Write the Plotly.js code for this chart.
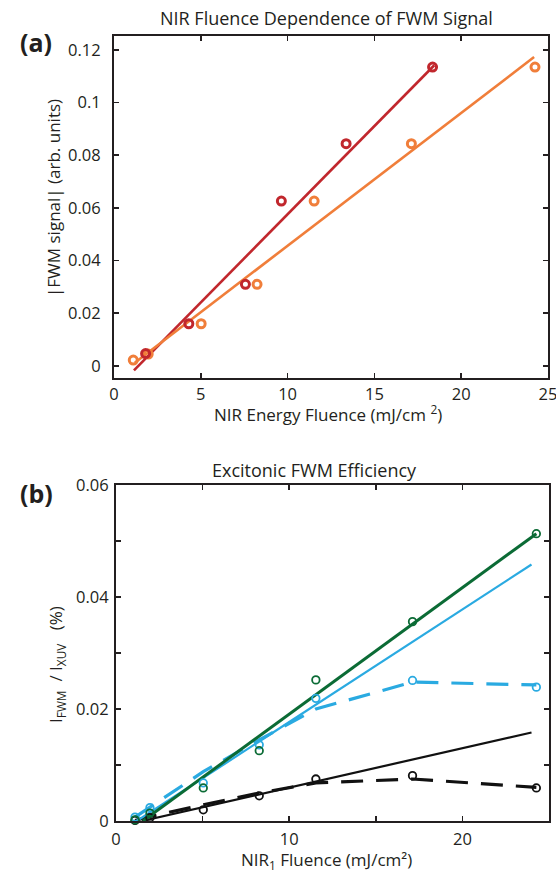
<!DOCTYPE html>
<html>
<head>
<meta charset="utf-8">
<script src="https://cdn.plot.ly/plotly-3.0.1.min.js"></script>
<style>html,body{margin:0;padding:0;background:#fff;}#chart{width:556px;height:874px;}</style>
</head>
<body>
<div id="chart"></div>
<script>
// ---------- Panel (a): NIR fluence dependence of FWM signal ----------
const redX = [1.82, 4.31, 7.57, 9.64, 13.37, 18.35];
const redY = [0.0047, 0.0160, 0.0310, 0.0626, 0.0844, 0.1135];
const orangeX = [1.11, 1.97, 5.02, 8.24, 11.53, 17.13, 24.25];
const orangeY = [0.0022, 0.0045, 0.0160, 0.0310, 0.0626, 0.0844, 0.1135];
const redFitX = [1.15, 18.45];
const redFitY = [-0.0017, 0.1142];
const orangeFitX = [1.2, 24.2];
const orangeFitY = [0.0012, 0.1173];
const aXTicks = [0, 5, 10, 15, 20, 25];
const aYTicks = [0, 0.02, 0.04, 0.06, 0.08, 0.1, 0.12];
const aYTickText = ['0', '0.02', '0.04', '0.06', '0.08', '0.1', '0.12'];

// ---------- Panel (b): Excitonic FWM efficiency ----------
const fluence = [1.1, 1.96, 5.04, 8.27, 11.54, 17.12, 24.27];
const greenY = [0.0002, 0.0014, 0.0059, 0.01255, 0.0252, 0.0356, 0.0513];
const blueY = [0.0007, 0.0024, 0.0068, 0.0136, 0.0219, 0.0251, 0.0239];
const blackY = [0.0001, 0.0006, 0.0020, 0.0045, 0.0075, 0.0081, 0.0059];
const greenFitX = [1.55, 24.27];
const greenFitY = [0.0, 0.0513];
const blueFitX = [1.2, 23.99];
const blueFitY = [0.0, 0.0458];
const blackFitX = [1.5, 23.99];
const blackFitY = [0.0, 0.0158];
const blueModelY = [0.0007, 0.0025, 0.0088, 0.0145, 0.0200, 0.0248, 0.0243];
const blackModelY = [0.0001, 0.0008, 0.0029, 0.0050, 0.0068, 0.0075, 0.0060];
const bXTicks = [0, 10, 20];
const bYTicks = [0, 0.02, 0.04, 0.06];
const bYTickText = ['0', '0.02', '0.04', '0.06'];

const RED = '#C1272D', ORANGE = '#F07E3A', GREEN = '#0B6B35', BLUE = '#2AAAE1', BLACK = '#111111';
const INK = '#231F20';
const FONT = 'Open Sans, Noto Sans, sans-serif';
const DASH = '22px,13px';

const traces = [
  {x: redFitX, y: redFitY, mode: 'lines', line: {color: RED, width: 2.6}, xaxis: 'x', yaxis: 'y'},
  {x: orangeFitX, y: orangeFitY, mode: 'lines', line: {color: ORANGE, width: 2.6}, xaxis: 'x', yaxis: 'y'},
  {x: orangeX, y: orangeY, mode: 'markers', cliponaxis: false,
   marker: {symbol: 'circle-open', size: 8, color: ORANGE, line: {width: 3, color: ORANGE}}, xaxis: 'x', yaxis: 'y'},
  {x: redX, y: redY, mode: 'markers', cliponaxis: false,
   marker: {symbol: 'circle-open', size: 8, color: RED, line: {width: 3, color: RED}}, xaxis: 'x', yaxis: 'y'},

  {x: blackFitX, y: blackFitY, mode: 'lines', line: {color: BLACK, width: 2.2}, xaxis: 'x2', yaxis: 'y2'},
  {x: fluence, y: blackModelY, mode: 'lines', line: {color: BLACK, width: 3.2, dash: DASH}, xaxis: 'x2', yaxis: 'y2'},
  {x: blueFitX, y: blueFitY, mode: 'lines', line: {color: BLUE, width: 2.2}, xaxis: 'x2', yaxis: 'y2'},
  {x: fluence, y: blueModelY, mode: 'lines', line: {color: BLUE, width: 3.2, dash: DASH}, xaxis: 'x2', yaxis: 'y2'},
  {x: greenFitX, y: greenFitY, mode: 'lines', line: {color: GREEN, width: 3}, xaxis: 'x2', yaxis: 'y2'},
  {x: fluence, y: blackY, mode: 'markers', cliponaxis: false,
   marker: {symbol: 'circle-open', size: 7.5, color: BLACK, line: {width: 1.8, color: BLACK}}, xaxis: 'x2', yaxis: 'y2'},
  {x: fluence, y: blueY, mode: 'markers', cliponaxis: false,
   marker: {symbol: 'circle-open', size: 7.5, color: BLUE, line: {width: 1.8, color: BLUE}}, xaxis: 'x2', yaxis: 'y2'},
  {x: fluence, y: greenY, mode: 'markers', cliponaxis: false,
   marker: {symbol: 'circle-open', size: 7.5, color: GREEN, line: {width: 1.8, color: GREEN}}, xaxis: 'x2', yaxis: 'y2'}
];

const minorTicks = {ticks: 'inside', ticklen: 5, tickwidth: 1.6, tickcolor: INK, showgrid: false};
const axisBase = {
  showgrid: false, zeroline: false, showline: true, linecolor: INK, linewidth: 2,
  mirror: 'ticks', ticks: 'inside', ticklen: 5, tickwidth: 1.6, tickcolor: INK,
  tickfont: {family: FONT, size: 16.5, color: INK}, automargin: false, fixedrange: true,
  ticklabeloverflow: 'allow'
};

const W = 556, H = 874;
const px = v => v / W;
const py = v => 1 - v / H;

const layout = {
  width: W, height: H,
  margin: {l: 0, r: 0, t: 0, b: 0, pad: 0},
  paper_bgcolor: '#ffffff', plot_bgcolor: '#ffffff',
  showlegend: false,
  font: {family: FONT, color: INK},
  xaxis: Object.assign({}, axisBase, {domain: [px(114), px(548)], range: [0, 25], anchor: 'y',
    tickmode: 'array', tickvals: aXTicks, ticklabelstandoff: 0}),
  yaxis: Object.assign({}, axisBase, {domain: [py(378), py(36)], range: [-0.0046, 0.1253], anchor: 'x',
    tickmode: 'array', tickvals: aYTicks, ticktext: aYTickText, ticklabelstandoff: 8}),
  xaxis2: Object.assign({}, axisBase, {domain: [px(116), px(549)], range: [0, 25], anchor: 'y2',
    tickmode: 'array', tickvals: bXTicks, ticklabelstandoff: 2,
    minor: Object.assign({}, minorTicks, {tickmode: 'linear', tick0: 0, dtick: 5})}),
  yaxis2: Object.assign({}, axisBase, {domain: [py(821), py(485)], range: [0, 0.06], anchor: 'x2',
    tickmode: 'array', tickvals: bYTicks, ticktext: bYTickText, ticklabelstandoff: 2,
    minor: Object.assign({}, minorTicks, {tickmode: 'linear', tick0: 0, dtick: 0.01})}),
  annotations: [
    {text: 'NIR Fluence Dependence of FWM Signal', x: px(326), y: py(18), xref: 'paper', yref: 'paper',
     showarrow: false, xanchor: 'center', yanchor: 'middle', font: {size: 18, family: FONT, color: INK}},
    {text: '<b>(a)</b>', x: px(36), y: py(42), xref: 'paper', yref: 'paper',
     showarrow: false, xanchor: 'center', yanchor: 'middle', font: {size: 25, family: FONT, color: INK}},
    {text: '|FWM signal| (arb. units)', x: px(53), y: py(198), xref: 'paper', yref: 'paper', textangle: -90,
     showarrow: false, xanchor: 'center', yanchor: 'middle', font: {size: 17, family: FONT, color: INK}},
    {text: 'NIR Energy Fluence (mJ/cm <sup>2</sup>)', x: px(328), y: py(413), xref: 'paper', yref: 'paper',
     showarrow: false, xanchor: 'center', yanchor: 'middle', font: {size: 17, family: FONT, color: INK}},
    {text: 'Excitonic FWM Efficiency', x: px(314), y: py(470), xref: 'paper', yref: 'paper',
     showarrow: false, xanchor: 'center', yanchor: 'middle', font: {size: 18, family: FONT, color: INK}},
    {text: '<b>(b)</b>', x: px(36), y: py(493), xref: 'paper', yref: 'paper',
     showarrow: false, xanchor: 'center', yanchor: 'middle', font: {size: 25, family: FONT, color: INK}},
    {text: 'I<sub>FWM</sub>  / I<sub>XUV</sub>   (%)', x: px(56), y: py(665), xref: 'paper', yref: 'paper', textangle: -90,
     showarrow: false, xanchor: 'center', yanchor: 'middle', font: {size: 17, family: FONT, color: INK}},
    {text: 'NIR<sub>1</sub> Fluence (mJ/cm²)', x: px(326), y: py(860), xref: 'paper', yref: 'paper',
     showarrow: false, xanchor: 'center', yanchor: 'middle', font: {size: 17, family: FONT, color: INK}}
  ]
};

Plotly.newPlot('chart', traces, layout, {staticPlot: true, displayModeBar: false});
</script>
</body>
</html>
